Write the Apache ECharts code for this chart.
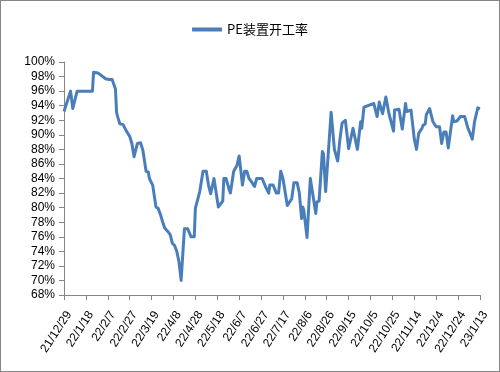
<!DOCTYPE html>
<html><head><meta charset="utf-8">
<script src="https://cdn.jsdelivr.net/npm/echarts@6/dist/echarts.min.js"></script>
<style>
html,body{margin:0;padding:0;background:#fff;}
#chart{width:500px;height:372px;box-sizing:border-box;border:1px solid #868686;}
</style></head>
<body><div id="chart"></div>
<script>
var seriesName = 'PE装置开工率';
var startDate = '2021-12-29';
var tickLabels = ['21/12/29','22/1/18','22/2/7','22/2/27','22/3/19','22/4/8','22/4/28','22/5/18','22/6/7','22/6/27',
  '22/7/17','22/8/6','22/8/26','22/9/15','22/10/5','22/10/25','22/11/14','22/12/4','22/12/24','23/1/13'];
var dates = ['2021-12-29','2021-12-30','2022-01-04','2022-01-06','2022-01-10','2022-01-24','2022-01-25','2022-01-29',
  '2022-02-05','2022-02-08','2022-02-11','2022-02-14','2022-02-15','2022-02-16','2022-02-18','2022-02-21','2022-02-24','2022-02-27',
  '2022-03-01','2022-03-03','2022-03-06','2022-03-09','2022-03-11','2022-03-14','2022-03-16','2022-03-17','2022-03-20','2022-03-23',
  '2022-03-25','2022-03-27','2022-03-29','2022-03-31','2022-04-03','2022-04-05','2022-04-07','2022-04-09','2022-04-11','2022-04-13',
  '2022-04-15','2022-04-18','2022-04-21','2022-04-24','2022-04-27','2022-04-28','2022-05-02','2022-05-05','2022-05-08','2022-05-10',
  '2022-05-12','2022-05-15','2022-05-19','2022-05-23','2022-05-24','2022-05-26','2022-05-29','2022-05-30','2022-06-02','2022-06-05',
  '2022-06-07','2022-06-10','2022-06-12','2022-06-14','2022-06-16','2022-06-18','2022-06-21','2022-06-23','2022-06-28','2022-07-01',
  '2022-07-04','2022-07-05','2022-07-08','2022-07-11','2022-07-13','2022-07-15','2022-07-17','2022-07-18','2022-07-21','2022-07-22',
  '2022-07-25','2022-07-26','2022-07-27','2022-07-30','2022-08-01','2022-08-03','2022-08-04','2022-08-05','2022-08-08','2022-08-11',
  '2022-08-12','2022-08-16','2022-08-17','2022-08-19','2022-08-22','2022-08-23','2022-08-25','2022-08-30','2022-08-31','2022-09-02',
  '2022-09-05','2022-09-07','2022-09-09','2022-09-12','2022-09-13','2022-09-15','2022-09-17','2022-09-19','2022-09-23','2022-09-26',
  '2022-09-27','2022-09-29','2022-10-08','2022-10-09','2022-10-11','2022-10-13','2022-10-16','2022-10-19','2022-10-22','2022-10-26',
  '2022-10-27','2022-10-31','2022-11-03','2022-11-06','2022-11-07','2022-11-11','2022-11-14','2022-11-16','2022-11-18','2022-11-21',
  '2022-11-22','2022-11-24','2022-11-25','2022-11-28','2022-12-01','2022-12-04','2022-12-07','2022-12-09','2022-12-11','2022-12-13',
  '2022-12-15','2022-12-19','2022-12-20','2022-12-23','2022-12-26','2022-12-30','2023-01-02','2023-01-04','2023-01-06','2023-01-08',
  '2023-01-09','2023-01-11','2023-01-13'];
var values = [93.2,93.3,96.0,93.6,96.0,96.0,98.6,98.5,
  97.7,97.6,97.6,96.3,93.1,92.5,91.5,91.4,90.5,89.8,
  88.8,87.0,88.8,88.9,87.9,85.0,84.9,84.0,83.1,80.1,
  79.9,79.1,78.1,77.2,76.7,76.3,75.1,74.8,74.0,72.6,
  70.0,77.1,77.1,76.0,76.0,79.9,82.2,85.0,85.0,83.1,
  81.9,84.0,80.1,80.9,84.0,84.0,82.4,82.0,85.0,85.8,
  87.1,83.1,85.0,85.0,84.0,83.6,82.9,84.0,84.0,82.9,
  82.0,83.1,83.1,82.0,82.0,85.0,84.0,84.0,80.3,80.4,
  81.2,81.3,83.4,83.4,82.0,78.5,80.1,79.7,75.9,84.0,
  84.0,79.2,80.8,80.9,87.7,87.4,82.2,93.1,93.0,88.0,
  86.4,89.3,91.6,92.0,92.2,88.1,89.5,90.9,88.0,91.8,
  90.9,93.8,94.3,94.4,92.5,94.5,92.9,95.2,92.8,90.5,
  93.4,93.5,90.8,94.3,93.2,93.4,89.4,88.0,90.2,90.9,
  91.3,91.5,92.8,93.6,91.8,91.1,91.1,88.8,90.4,90.4,
  88.2,92.6,91.8,91.9,92.5,92.5,90.9,90.2,89.4,91.8,
  92.0,93.7,93.6];

function dayOffset(s){
  var a = s.split('-'), b = startDate.split('-');
  return Math.round((Date.UTC(+a[0],a[1]-1,+a[2]) - Date.UTC(+b[0],b[1]-1,+b[2]))/86400000);
}
var data = dates.map(function(d,i){ return [dayOffset(d), values[i]]; });
var axisColor = '#868686';
var chart = echarts.init(document.getElementById('chart'), null, {renderer:'canvas'});
chart.setOption({
  animation:false,
  backgroundColor:'#fff',
  legend:{
    top:17, left:'center',
    data:[{name:seriesName, icon:'rect'}],
    itemWidth:30, itemHeight:4, itemGap:4,
    textStyle:{fontSize:13, color:'#000', fontFamily:'"Noto Sans CJK SC", sans-serif'}
  },
  grid:{left:63, right:19, top:61, bottom:76},
  xAxis:{
    type:'value', min:0, max:380, interval:20,
    axisLine:{lineStyle:{color:axisColor}},
    axisTick:{show:true, length:5, lineStyle:{color:axisColor}},
    splitLine:{show:false},
    axisLabel:{
      rotate:57, color:'#000', fontSize:12, fontFamily:'"Liberation Sans", Arial, sans-serif', margin:14,
      verticalAlign:'top',
      formatter:function(v){ return tickLabels[Math.round(v/20)] || ''; }
    }
  },
  yAxis:{
    type:'value', min:68, max:100, interval:2,
    axisLine:{show:true, lineStyle:{color:axisColor}},
    axisTick:{show:true, length:5, lineStyle:{color:axisColor}},
    splitLine:{show:false},
    axisLabel:{color:'#000', fontSize:12, fontFamily:'"Liberation Sans", Arial, sans-serif', margin:9,
      formatter:function(v){ return v + '%'; }}
  },
  series:[{
    name:seriesName, type:'line', data:data, showSymbol:false, symbol:'none',
    lineStyle:{color:'#4A7EBB', width:3, join:'round'},
    itemStyle:{color:'#4A7EBB'}
  }]
});
</script></body></html>
